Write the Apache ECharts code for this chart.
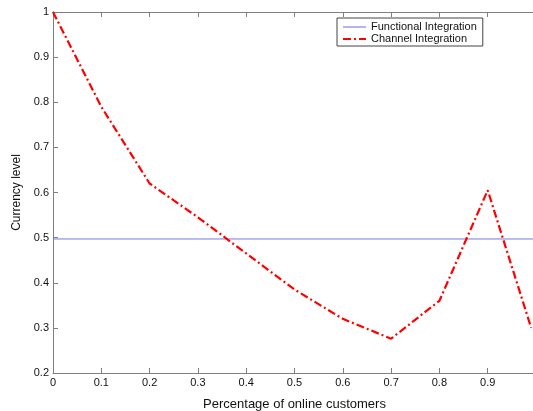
<!DOCTYPE html>
<html><head><meta charset="utf-8">
<script src="https://cdn.jsdelivr.net/npm/echarts@6/dist/echarts.min.js"></script>
<style>html,body{margin:0;padding:0;background:#fff}#c{width:533px;height:411px}</style>
</head><body><div id="c"></div>
<script>
var xValues = [0, 0.1, 0.2, 0.3, 0.4, 0.5, 0.6, 0.7, 0.8, 0.9, 0.99];
var channelIntegration = [1.0, 0.79, 0.62, 0.545, 0.465, 0.385, 0.32, 0.276, 0.36, 0.605, 0.30];
var functionalX = [0, 1];
var functionalIntegration = [0.497, 0.497];
var seriesNames = ['Functional Integration', 'Channel Integration'];
var xTitle = 'Percentage of online customers';
var yTitle = 'Currency level';

var chart = echarts.init(document.getElementById('c'), null, {renderer: 'canvas'});
var font = 'Liberation Sans, Arial, sans-serif';
var axisCol = '#7f7f7f';
function fmt(v){ return String(Math.round(v*10)/10); }
chart.setOption({
  animation: false,
  backgroundColor: '#fff',
  grid: {left: 53, top: 12, right: -3, bottom: 38, containLabel: false, outerBoundsMode: 'none'},
  legend: {
    orient: 'vertical', left: 337, top: 18,
    padding: [3, 6, 1, 6], itemGap: 0, itemWidth: 23, itemHeight: 4,
    borderColor: '#444', borderWidth: 1, backgroundColor: '#fff',
    textStyle: {fontFamily: font, fontSize: 11, color: '#111', lineHeight: 12},
    data: [
      {name: seriesNames[0], icon: 'path://M0,0h0.1v0h-0.1zM0,1.5h23v1h-23zM0,4h0.1v0h-0.1z', itemStyle: {color: '#6a6ae8'}},
      {name: seriesNames[1], icon: 'path://M0,0h0.1v0h-0.1zM0,1h8v2h-8zM11,1h2v2h-2zM16,1h7v2h-7zM0,4h0.1v0h-0.1z', itemStyle: {color: '#ff0000'}}
    ]
  },
  xAxis: [{
    type: 'value', min: 0, max: 1, interval: 0.1, position: 'bottom',
    name: xTitle, nameLocation: 'middle', nameGap: 25,
    nameTextStyle: {fontFamily: font, fontSize: 13, color: '#111'},
    axisLine: {show: true, lineStyle: {color: axisCol}},
    axisTick: {show: true, inside: true, length: 5, lineStyle: {color: axisCol}},
    axisLabel: {fontFamily: font, fontSize: 11, color: '#111', margin: 4, formatter: fmt, showMaxLabel: false},
    splitLine: {show: false}
  }, {
    type: 'value', min: 0, max: 1, interval: 0.1, position: 'top',
    axisLine: {show: true, lineStyle: {color: axisCol}},
    axisTick: {show: true, inside: true, length: 5, lineStyle: {color: axisCol}},
    axisLabel: {show: false}, splitLine: {show: false}
  }],
  yAxis: [{
    type: 'value', min: 0.2, max: 1, interval: 0.1,
    name: yTitle, nameLocation: 'middle', nameGap: 30, nameRotate: 90,
    nameTextStyle: {fontFamily: font, fontSize: 12, color: '#111'},
    axisLine: {show: true, lineStyle: {color: axisCol}},
    axisTick: {show: true, inside: true, length: 5, lineStyle: {color: axisCol}},
    axisLabel: {fontFamily: font, fontSize: 11, color: '#111', margin: 4, formatter: fmt},
    splitLine: {show: false}
  }],
  series: [{
    name: seriesNames[0], type: 'line', xAxisIndex: 0,
    data: functionalX.map(function(x,i){return [x, functionalIntegration[i]];}),
    showSymbol: false, symbol: 'none',
    lineStyle: {color: '#7878e0', width: 1}, itemStyle: {color: '#7878e0'}
  }, {
    name: seriesNames[1], type: 'line', xAxisIndex: 0,
    data: xValues.map(function(x,i){return [x, channelIntegration[i]];}),
    showSymbol: false, symbol: 'none',
    lineStyle: {color: '#ff0000', width: 2.2, type: [8, 3, 2, 3]}, itemStyle: {color: '#ff0000'}
  }]
});
</script></body></html>
